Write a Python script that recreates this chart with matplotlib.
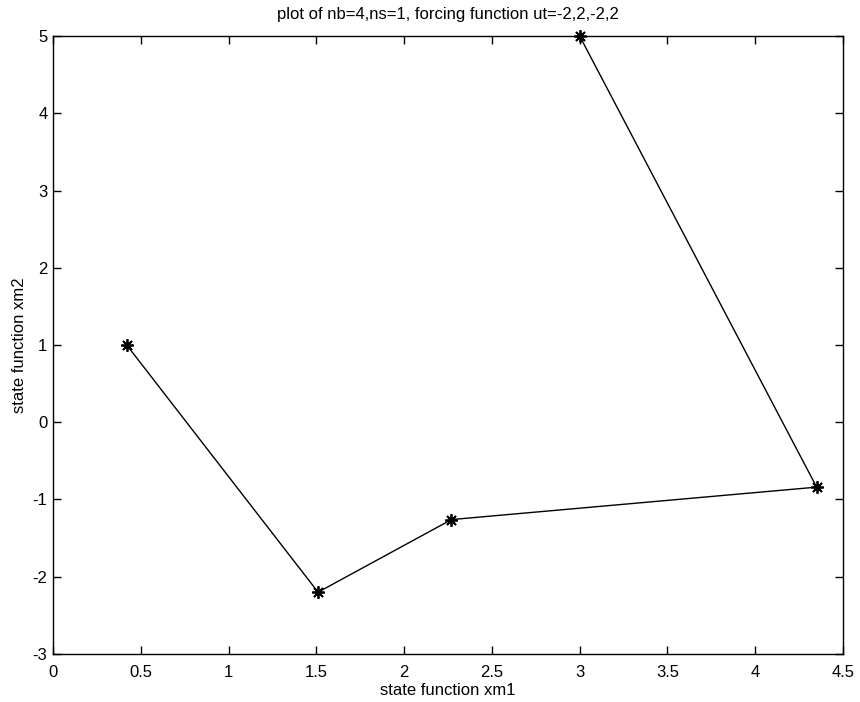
import matplotlib
matplotlib.use('Agg')
import matplotlib.pyplot as plt

# state trajectory points
xm1 = [0.42, 1.51, 2.27, 4.35, 3.0]
xm2 = [1.0, -2.20, -1.26, -0.84, 5.0]

x_ticks = [0, 0.5, 1, 1.5, 2, 2.5, 3, 3.5, 4, 4.5]
y_ticks = [-3, -2, -1, 0, 1, 2, 3, 4, 5]

plt.rcParams['font.family'] = ['Liberation Sans', 'DejaVu Sans']
plt.rcParams['font.size'] = 12
plt.rcParams['axes.unicode_minus'] = False

fig = plt.figure(figsize=(8.6, 7.02), dpi=100)
ax = fig.add_axes([0.0616, 0.0684, 0.9186, 0.8803])

ax.plot(xm1, xm2, color='black', linewidth=1.0, marker=(8, 2, 0), markersize=9,
        markeredgewidth=1.3, clip_on=False)

ax.set_xlim(0, 4.5)
ax.set_ylim(-3, 5)
ax.set_xticks(x_ticks)
ax.set_xticklabels([f'{t:g}' for t in x_ticks])
ax.set_yticks(y_ticks)
ax.tick_params(direction='in', top=True, right=True, length=6, width=1)
ax.tick_params(axis='x', pad=8)
ax.tick_params(axis='y', pad=4)
for s in ax.spines.values():
    s.set_linewidth(1.0)

ax.set_title('plot of nb=4,ns=1, forcing function ut=-2,2,-2,2', fontsize=12, pad=12)
ax.set_xlabel('state function xm1', labelpad=2)
ax.set_ylabel('state function xm2', labelpad=4)

plt.savefig('out.png', dpi=100)
plt.close()
